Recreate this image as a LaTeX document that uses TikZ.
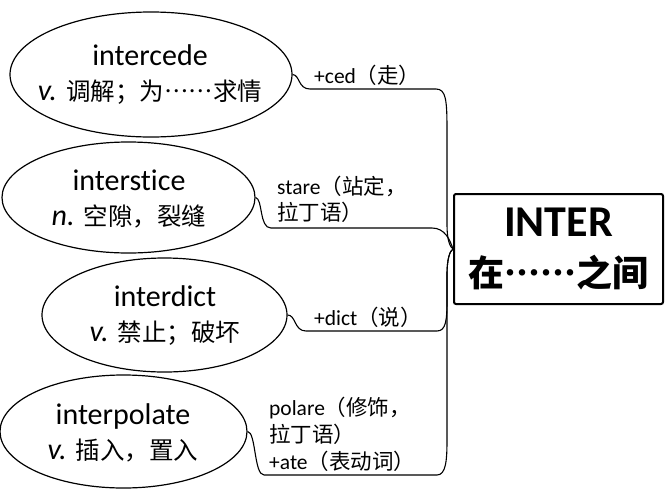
\documentclass[tikz,border=0pt]{standalone}
\usepackage{fontspec}
\setmainfont{Carlito}[Ligatures=NoCommon]
\newfontfamily\cjk{Noto Sans CJK SC}[Script=CJK,Language=Chinese Simplified]
\usetikzlibrary{shapes.geometric}
\newcommand{\zh}[2]{{\fontsize{#1}{#1}\cjk #2}}
\begin{document}
\begin{tikzpicture}[x=1pt,y=-1pt,
  oval/.style={ellipse, draw, line width=1.2pt, inner sep=0pt},
  txt/.style={inner sep=0pt, align=center, font=\fontsize{30}{35}\selectfont},
  conn/.style={draw, line width=1.1pt},
  lbl/.style={anchor=west, inner sep=0pt, align=left},
  mainbox/.style={draw, line width=2pt, rounded corners=2pt, align=center,
    minimum width=209pt, minimum height=110pt, inner sep=0pt,
    font=\fontsize{44}{48}\selectfont\bfseries}]
\useasboundingbox (0,0) rectangle (665,491);

\node[oval, minimum width=282pt, minimum height=125pt] (e1) at (151,74.5) {};
\node[txt] (t1) at (150,75) {intercede\\{\itshape v.} \zh{24.5}{调解；为……求情}};
\node[oval, minimum width=253pt, minimum height=111pt] (e2) at (128.5,197.5) {};
\node[txt] (t2) at (129,199) {interstice\\{\itshape n.} \zh{24.5}{空隙，裂缝}};
\node[oval, minimum width=245pt, minimum height=114pt] (e3) at (164.5,315) {};
\node[txt] (t3) at (165,316) {interdict\\{\itshape v.} \zh{24.5}{禁止；破坏}};
\node[oval, minimum width=247pt, minimum height=113pt] (e4) at (123.5,431.5) {};
\node[txt] (t4) at (123,433) {interpolate\\{\itshape v.} \zh{24.5}{插入，置入}};

\node[mainbox] (box) at (558.5,249) {INTER\\[2pt]\zh{36}{\bfseries 在……之间}};

\node[lbl, font=\fontsize{21.5}{27}\selectfont] (l1) at (314,75) {+ced\zh{21.5}{（走）}};
\node[lbl, font=\fontsize{21.5}{26}\selectfont] (l2) at (277,199) {stare\zh{21.5}{（站定，}\\\zh{21.5}{拉丁语）}};
\node[lbl, font=\fontsize{21.5}{27}\selectfont] (l3) at (314,317) {+dict\zh{21.5}{（说）}};
\node[lbl, font=\fontsize{21.5}{27}\selectfont] (l4) at (269,434) {polare\zh{21.5}{（修饰，}\\\zh{21.5}{拉丁语）}\\+ate\zh{21.5}{（表动词）}};

\draw[conn] (e1.east) .. controls (300,75) and (298,89) .. (310,89) -- (436,89)
  .. controls (446,89) and (447,100) .. (447,130) -- (447,225)
  .. controls (447,240) and (450,247) .. (box.west);
\draw[conn] (e2.east) .. controls (263,199) and (259,228) .. (271,228) -- (432,228)
  .. controls (445,228) and (450,240) .. (box.west);
\draw[conn] (e3.east) .. controls (296,315) and (294,331) .. (306,331) -- (437,331)
  .. controls (446,331) and (447,320) .. (447,300) -- (447,275)
  .. controls (447,258) and (450,251) .. (box.west);
\draw[conn] (e4.east) .. controls (256,432) and (254,475) .. (264,475) -- (437,475)
  .. controls (446,475) and (447,460) .. (447,440) -- (447,275)
  .. controls (447,258) and (450,251) .. (box.west);
\end{tikzpicture}
\end{document}
